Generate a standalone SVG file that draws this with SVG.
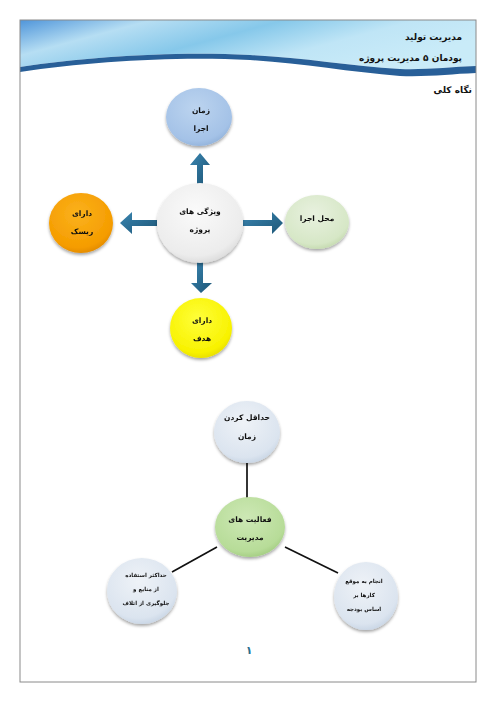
<svg xmlns="http://www.w3.org/2000/svg" width="496" height="702" viewBox="0 0 496 702">
<style>
text{font-family:"DejaVu Sans","Noto Sans",sans-serif;font-weight:bold;fill:#111;}
.t8{font-size:7.5px;text-anchor:middle;}
.t6{font-size:5.5px;text-anchor:middle;}
.hd{font-size:9px;text-anchor:end;}
.arrow{fill:url(#arrowGrad);}
.line{stroke:#111;stroke-width:1.7;fill:none;}
.node{filter:url(#shadow);}
</style>
<defs>
<filter id="shadow" x="-30%" y="-30%" width="160%" height="170%">
<feDropShadow dx="0" dy="2" stdDeviation="1.6" flood-color="#000" flood-opacity="0.35"/>
</filter>
<linearGradient id="hdrGrad" x1="0" y1="0" x2="1" y2="0.4">
<stop offset="0" stop-color="#4f95da"/>
<stop offset="0.25" stop-color="#b6def3"/>
<stop offset="0.5" stop-color="#86c8ea"/>
<stop offset="0.75" stop-color="#bfe5f6"/>
<stop offset="1" stop-color="#c9ebf8"/>
</linearGradient>
<linearGradient id="arrowGrad" x1="0" y1="0" x2="1" y2="1">
<stop offset="0" stop-color="#3a85b0"/>
<stop offset="1" stop-color="#1d5677"/>
</linearGradient>
<radialGradient id="gBlue" cx="0.45" cy="0.35" r="0.7">
<stop offset="0" stop-color="#bcd4ef"/>
<stop offset="0.8" stop-color="#a4c2e7"/>
<stop offset="1" stop-color="#8eafd8"/>
</radialGradient>
<radialGradient id="gWhite" cx="0.45" cy="0.35" r="0.7">
<stop offset="0" stop-color="#fafafa"/>
<stop offset="0.8" stop-color="#ececec"/>
<stop offset="1" stop-color="#d6d6d6"/>
</radialGradient>
<radialGradient id="gPaleGreen" cx="0.45" cy="0.35" r="0.7">
<stop offset="0" stop-color="#e8f1df"/>
<stop offset="0.8" stop-color="#d6e7c6"/>
<stop offset="1" stop-color="#bfd6a8"/>
</radialGradient>
<radialGradient id="gOrange" cx="0.45" cy="0.35" r="0.7">
<stop offset="0" stop-color="#fbb21c"/>
<stop offset="0.8" stop-color="#f59c00"/>
<stop offset="1" stop-color="#dc8500"/>
</radialGradient>
<radialGradient id="gYellow" cx="0.45" cy="0.35" r="0.7">
<stop offset="0" stop-color="#ffff3a"/>
<stop offset="0.8" stop-color="#f8f200"/>
<stop offset="1" stop-color="#e3d800"/>
</radialGradient>
<radialGradient id="gGrayBlue" cx="0.45" cy="0.35" r="0.7">
<stop offset="0" stop-color="#eef2f7"/>
<stop offset="0.8" stop-color="#dbe4ef"/>
<stop offset="1" stop-color="#c3d1e2"/>
</radialGradient>
<radialGradient id="gGreen" cx="0.45" cy="0.35" r="0.7">
<stop offset="0" stop-color="#cde8b5"/>
<stop offset="0.8" stop-color="#b7dc98"/>
<stop offset="1" stop-color="#9ec97c"/>
</radialGradient>
</defs>

<rect width="496" height="702" fill="#fff"/>

<g id="header">
<path d="M20,20 H476 V66 C450,67 425,70 400,69 C350,66 300,57 250,55 C180,51 90,56 20,67 Z" fill="url(#hdrGrad)"/>
<path d="M20,67 C90,56 180,51 250,55 C300,57 350,66 400,69 C425,70 450,67 476,66 V73 C450,74 430,77 400,76 C350,72 300,63 250,60 C180,56 90,61 20,72 Z" fill="#285f98"/>
<text class="hd" x="462" y="40">مدیریت تولید</text>
<text class="hd" x="462" y="61">پودمان ۵ مدیریت پروژه</text>
</g>

<rect x="20" y="20" width="456" height="662" fill="none" stroke="#8a8a8a" stroke-width="1"/>

<text id="overview" class="hd" x="472" y="93">نگاه کلی</text>

<g id="connectors">
<path class="arrow" d="M197,185 V165 H190 L200,153 L210,165 H203 V185 Z"/>
<path class="arrow" d="M243,220 H272 V212 L283,223 L272,234 V226 H243 Z"/>
<path class="arrow" d="M157,220 H132 V212 L120,223 L132,234 V226 H157 Z"/>
<path class="arrow" d="M197,262 V283 H191 L201,293 L212,283 H203 V262 Z"/>
<line class="line" x1="247" y1="463" x2="247" y2="498"/>
<line class="line" x1="217" y1="547" x2="172" y2="572"/>
<line class="line" x1="285" y1="547" x2="338" y2="573"/>
</g>

<g id="node-zaman-ejra" class="node">
<ellipse cx="199" cy="117" rx="33" ry="29" fill="url(#gBlue)"/>
<text class="t8" x="201" y="113">زمان</text>
<text class="t8" x="201" y="131">اجرا</text>
</g>

<g id="node-vizhegi" class="node">
<ellipse cx="200" cy="223" rx="43" ry="40" fill="url(#gWhite)"/>
<text class="t8" x="200" y="214">ویژگی های</text>
<text class="t8" x="200" y="232">پروژه</text>
</g>

<g id="node-mahal-ejra" class="node">
<ellipse cx="317" cy="222" rx="32" ry="27" fill="url(#gPaleGreen)"/>
<text class="t8" x="317" y="221">محل اجرا</text>
</g>

<g id="node-risk" class="node">
<ellipse cx="81" cy="223" rx="32" ry="30" fill="url(#gOrange)"/>
<text class="t8" x="82" y="216">دارای</text>
<text class="t8" x="82" y="234">ریسک</text>
</g>

<g id="node-hadaf" class="node">
<ellipse cx="201" cy="328" rx="31" ry="30" fill="url(#gYellow)"/>
<text class="t8" x="202" y="323">دارای</text>
<text class="t8" x="202" y="341">هدف</text>
</g>

<g id="node-hadaghal-zaman" class="node">
<ellipse cx="247" cy="432" rx="33" ry="31" fill="url(#gGrayBlue)"/>
<text class="t8" x="247" y="420">حداقل کردن</text>
<text class="t8" x="247" y="439">زمان</text>
</g>

<g id="node-faaliyat" class="node">
<ellipse cx="250" cy="527" rx="35" ry="30" fill="url(#gGreen)"/>
<text class="t8" x="250" y="522">فعالیت های</text>
<text class="t8" x="250" y="540">مدیریت</text>
</g>

<g id="node-hadaksar" class="node">
<ellipse cx="142" cy="591" rx="35" ry="33" fill="url(#gGrayBlue)"/>
<text class="t6" x="146" y="577">حداکثر استفاده</text>
<text class="t6" x="146" y="591">از منابع و</text>
<text class="t6" x="146" y="605">جلوگیری از اتلاف</text>
</g>

<g id="node-anjam" class="node">
<ellipse cx="366" cy="596" rx="32" ry="34" fill="url(#gGrayBlue)"/>
<text class="t6" x="364" y="583">انجام به موقع</text>
<text class="t6" x="364" y="597">کارها بر</text>
<text class="t6" x="364" y="611">اساس بودجه</text>
</g>

<text id="page-number" x="249" y="654" style="font-size:11px;text-anchor:middle;fill:#2a6f8f;">۱</text>
</svg>
